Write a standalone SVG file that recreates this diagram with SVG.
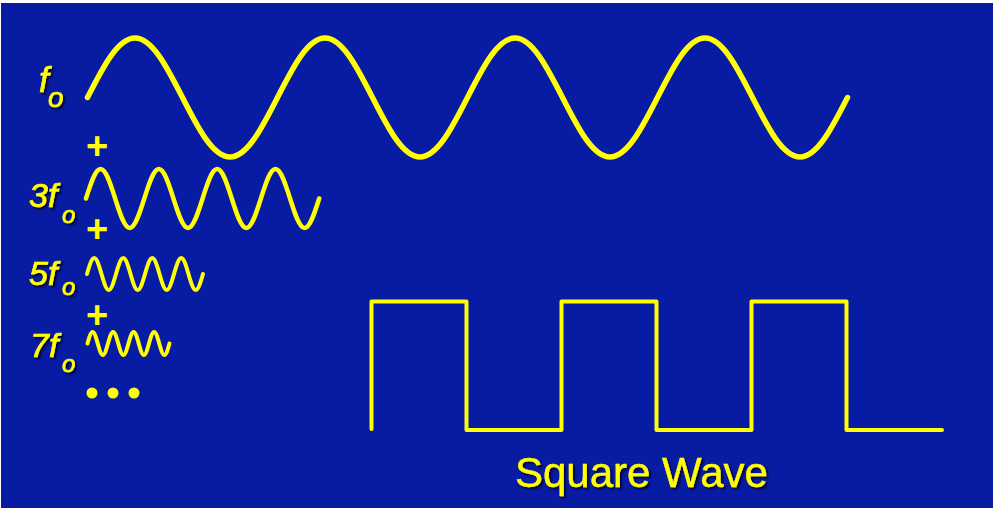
<svg xmlns="http://www.w3.org/2000/svg" width="993" height="508" viewBox="0 0 993 508">
  <defs>
    <filter id="shadow" x="-20%" y="-20%" width="140%" height="160%">
      <feDropShadow dx="2" dy="2" stdDeviation="1" flood-color="#000020" flood-opacity="0.8"/>
    </filter>
  </defs>
  <style>
    .wave { fill: none; stroke: #FFFF00; stroke-linecap: round; stroke-linejoin: round; }
    .lbl { font-family: "Liberation Sans", Arial, sans-serif; font-style: italic; fill: #FFFF00; stroke: #FFFF00; stroke-width: 0.7; filter: url(#shadow); }
    .plus { font-family: "Liberation Sans", Arial, sans-serif; font-weight: bold; font-size: 38px; fill: #FFFF00; text-anchor: middle; }
    .title { font-family: "Liberation Sans", Arial, sans-serif; font-size: 42px; fill: #FFFF00; stroke: #FFFF00; stroke-width: 0.4; filter: url(#shadow); }
  </style>
  <rect x="0" y="0" width="993" height="508" fill="#FFFFFF"/>
  <rect x="1" y="3" width="992" height="505" fill="#071BA3"/>

  <g id="fundamental">
    <text class="lbl" x="39" y="92" font-size="35">f<tspan x="48" y="107" font-size="28">o</tspan></text>
    <path class="wave" stroke-width="5.5" d="M87.5,97.5 c15.49,-30.48 30.31,-59.5 47.5,-59.5 s32.01,29.02 47.5,59.5 s30.31,59.5 47.5,59.5 s32.01,-29.02 47.5,-59.5 s30.31,-59.5 47.5,-59.5 s32.01,29.02 47.5,59.5 s30.31,59.5 47.5,59.5 s32.01,-29.02 47.5,-59.5 s30.31,-59.5 47.5,-59.5 s32.01,29.02 47.5,59.5 s30.31,59.5 47.5,59.5 s32.01,-29.02 47.5,-59.5 s30.31,-59.5 47.5,-59.5 s32.01,29.02 47.5,59.5 s30.31,59.5 47.5,59.5 s32.01,-29.02 47.5,-59.5"/>
  </g>

  <g id="plus1"><text class="plus" x="97" y="158.5">+</text></g>

  <g id="third">
    <text class="lbl" x="29" y="207" font-size="34">3f<tspan x="62" y="223" font-size="24">o</tspan></text>
    <path class="wave" stroke-width="4.5" d="M86,198.5 c4.75,-15.11 9.30,-29.5 14.575,-29.5 s9.83,14.39 14.575,29.5 s9.30,29.5 14.575,29.5 s9.83,-14.39 14.575,-29.5 s9.30,-29.5 14.575,-29.5 s9.83,14.39 14.575,29.5 s9.30,29.5 14.575,29.5 s9.83,-14.39 14.575,-29.5 s9.30,-29.5 14.575,-29.5 s9.83,14.39 14.575,29.5 s9.30,29.5 14.575,29.5 s9.83,-14.39 14.575,-29.5 s9.30,-29.5 14.575,-29.5 s9.83,14.39 14.575,29.5 s9.30,29.5 14.575,29.5 s9.83,-14.39 14.575,-29.5"/>
  </g>

  <g id="plus2"><text class="plus" x="97" y="241.5">+</text></g>

  <g id="fifth">
    <text class="lbl" x="29" y="285" font-size="34">5f<tspan x="62" y="295" font-size="24">o</tspan></text>
    <path class="wave" stroke-width="4" d="M87,274 c2.36,-8.20 4.63,-16 7.25,-16 s4.89,7.80 7.25,16 s4.63,16 7.25,16 s4.89,-7.80 7.25,-16 s4.63,-16 7.25,-16 s4.89,7.80 7.25,16 s4.63,16 7.25,16 s4.89,-7.80 7.25,-16 s4.63,-16 7.25,-16 s4.89,7.80 7.25,16 s4.63,16 7.25,16 s4.89,-7.80 7.25,-16 s4.63,-16 7.25,-16 s4.89,7.80 7.25,16 s4.63,16 7.25,16 s4.89,-7.80 7.25,-16"/>
  </g>

  <g id="plus3"><text class="plus" x="97" y="327.5">+</text></g>

  <g id="seventh">
    <text class="lbl" x="30" y="357" font-size="34">7f<tspan x="62" y="372" font-size="24">o</tspan></text>
    <path class="wave" stroke-width="4" d="M87.5,343.5 c1.67,-5.89 3.27,-11.5 5.125,-11.5 s3.45,5.61 5.125,11.5 s3.27,11.5 5.125,11.5 s3.45,-5.61 5.125,-11.5 s3.27,-11.5 5.125,-11.5 s3.45,5.61 5.125,11.5 s3.27,11.5 5.125,11.5 s3.45,-5.61 5.125,-11.5 s3.27,-11.5 5.125,-11.5 s3.45,5.61 5.125,11.5 s3.27,11.5 5.125,11.5 s3.45,-5.61 5.125,-11.5 s3.27,-11.5 5.125,-11.5 s3.45,5.61 5.125,11.5 s3.27,11.5 5.125,11.5 s3.45,-5.61 5.125,-11.5"/>
  </g>

  <g id="ellipsis" fill="#FFFF00">
    <circle cx="92" cy="393" r="5.5"/>
    <circle cx="113" cy="393" r="5.5"/>
    <circle cx="134" cy="393" r="5.5"/>
  </g>

  <g id="square-wave">
    <path class="wave" stroke-width="4" stroke-linecap="butt" stroke-linejoin="miter" d="M371.5,429 V301.5 H466.5 V430 H561.5 V301.5 H656.5 V430 H751.5 V301.5 H846.5 V430 H942"/>
    <text class="title" x="515" y="487">Square Wave</text>
  </g>
</svg>
